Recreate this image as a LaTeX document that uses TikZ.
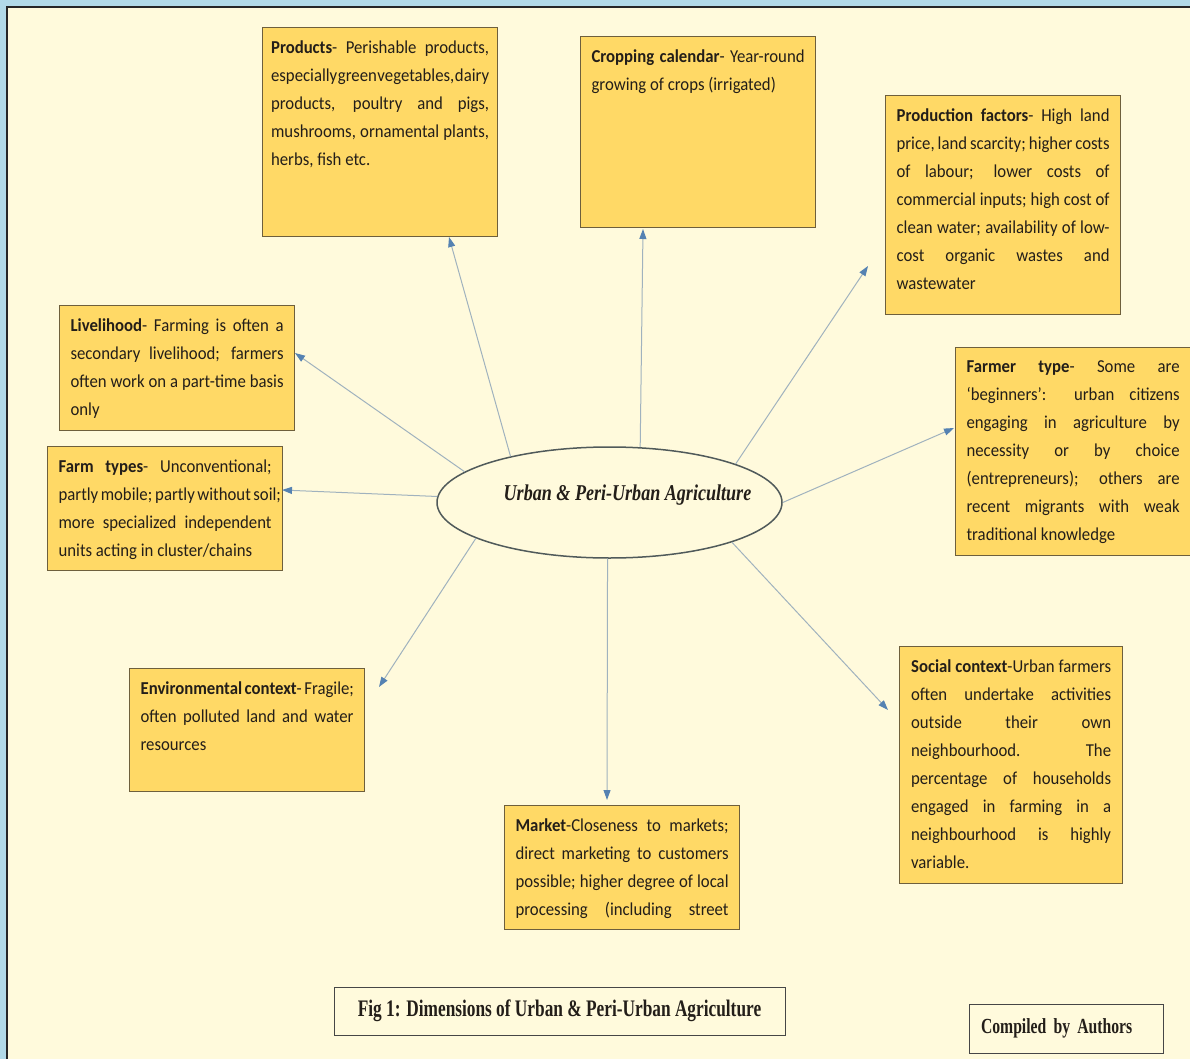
\documentclass[tikz,border=0pt]{standalone}
\usepackage{fontspec}
\setmainfont{Carlito}[FakeStretch=0.92]
\newfontfamily\serifcond{Liberation Serif}[FakeStretch=0.8]
\newfontfamily\serifnarrow{Liberation Serif}[FakeStretch=0.73]
\usetikzlibrary{shapes.geometric,arrows.meta}

\definecolor{framebl}{RGB}{178,218,232}
\definecolor{paper}{RGB}{255,250,220}
\definecolor{cardfill}{RGB}{255,217,102}
\definecolor{cardline}{RGB}{110,95,60}
\definecolor{hubline}{RGB}{80,90,90}
\definecolor{noteline}{RGB}{70,70,70}
\definecolor{inktext}{RGB}{35,30,25}
\definecolor{shaft}{RGB}{160,178,190}
\definecolor{tipblue}{RGB}{85,130,178}

% one justified line of a card
\newcommand\jl[1]{\makebox[\linewidth][s]{#1}\\}
% card body: width, height, text
\newcommand\cardbody[3]{\parbox[c][#2pt][t]{#1pt}{\raggedright #3}}

\begin{document}
\begin{tikzpicture}[x=1pt, y=-1pt,
    card/.style={draw=cardline, line width=1.2pt, fill=cardfill, anchor=north west,
      inner xsep=11pt, inner ysep=13pt, text=inktext,
      font=\fontsize{18.2}{28}\selectfont},
    hub/.style={ellipse, draw=hubline, line width=1.5pt, fill=paper,
      minimum width=345pt, minimum height=111pt, inner sep=0pt,
      text height=15pt, text depth=19pt, text=inktext,
      font=\serifcond\fontsize{22.6}{26}\selectfont\bfseries\itshape},
    note/.style={draw=noteline, line width=1pt, fill=paper, text=inktext,
      font=\serifnarrow\fontsize{23.7}{26}\selectfont\bfseries},
    arr/.style={draw=shaft, line width=1pt,
      -{Triangle[length=10pt, width=7pt, color=tipblue]}}]

  \useasboundingbox (0,0) rectangle (1190,1059);

  % frame
  \fill[framebl] (0,0) rectangle (1190,1059);
  \fill[paper] (7,7) rectangle (1190,1059);
  \draw[line width=2pt, black!85] (7,1059) -- (7,7) -- (1190,7);

  % centre
  \node[hub] (hub) at (609.5,502.5)
    {\makebox[0pt]{\hspace{36pt}Urban \& Peri-Urban Agriculture}};

  % cards
  \node[card, inner xsep=8.5pt] (prod) at (262,27) {\cardbody{218}{183}{%
    \jl{\textbf{Products}- Perishable products,}%
    \makebox[\linewidth][s]{especially\hspace{0.5pt plus 1fil}green\hspace{0.5pt plus 1fil}vegetables,\hspace{0.5pt plus 1fil}dairy}\\
    \jl{products, poultry and pigs,}%
    \jl{mushrooms, ornamental plants,}%
    herbs, fish etc.}};

  \node[card] (crop) at (580,36) {\cardbody{213}{165}{%
    \jl{\textbf{Cropping calendar}- Year-round}%
    growing of crops (irrigated)}};

  \node[card] (pfac) at (885,95) {\cardbody{213}{193}{%
    \jl{\textbf{Production factors}- High land}%
    \jl{price, land scarcity; higher costs}%
    \jl{of labour; lower costs of}%
    \jl{commercial inputs; high cost of}%
    \jl{clean water; availability of low-}%
    \jl{cost organic wastes and}%
    wastewater}};

  \node[card] (live) at (59,305) {\cardbody{213}{99}{%
    \jl{\textbf{Livelihood}- Farming is often a}%
    \jl{secondary livelihood; farmers}%
    \jl{often work on a part-time basis}%
    only}};

  \node[card] (farm) at (47,446) {\cardbody{213}{98}{%
    \jl{\textbf{Farm types}- Unconventional;}%
    \jl{partly mobile; partly without soil;}%
    \jl{more specialized independent}%
    units acting in cluster/chains}};

  \node[card] (farmer) at (955,347) {\cardbody{213}{182}{%
    \jl{\textbf{Farmer type}- Some are}%
    \jl{‘beginners’: urban citizens}%
    \jl{engaging in agriculture by}%
    \jl{necessity or by choice}%
    \jl{(entrepreneurs); others are}%
    \jl{recent migrants with weak}%
    traditional knowledge}};

  \node[card] (env) at (129,668) {\cardbody{213}{97}{%
    \jl{\textbf{Environmental context}- Fragile;}%
    \jl{often polluted land and water}%
    resources}};

  \node[card, inner xsep=11.5pt] (soc) at (899,646) {\cardbody{200}{211}{%
    \jl{\textbf{Social context}-Urban farmers}%
    \jl{often undertake activities}%
    \jl{outside their own}%
    \jl{neighbourhood. The}%
    \jl{percentage of households}%
    \jl{engaged in farming in a}%
    \jl{neighbourhood is highly}%
    variable.}};

  \node[card] (mkt) at (504,805) {\cardbody{213}{98}{%
    \jl{\textbf{Market}-Closeness to markets;}%
    \jl{direct marketing to customers}%
    \jl{possible; higher degree of local}%
    \makebox[\linewidth][s]{processing (including street}}};

  % caption and credit
  \node[note, minimum width=451pt, minimum height=48pt] (caption) at (559.5,1011)
    {Fig 1: Dimensions of Urban \& Peri-Urban Agriculture};
  \node[note, text width=170pt, inner xsep=12pt, minimum height=49pt, align=left,
    font=\serifnarrow\fontsize{21.5}{24}\selectfont\bfseries] (credit) at (1066,1028.5)
    {Compiled by Authors};

  % arrow tips
  \coordinate (tprod) at (449,237);
  \coordinate (tcrop) at (643,229);
  \coordinate (tpfac) at (868,266);
  \coordinate (tlive) at (295,353);
  \coordinate (tfarm) at (282,490);
  \coordinate (tfarmer) at (954,428);
  \coordinate (tenv) at (379,687);
  \coordinate (tmkt) at (607,800);
  \coordinate (tsoc) at (888,710);

  % connectors
  \draw[arr] (hub.155) -- (tprod);
  \draw[arr] (hub.61) -- (tcrop);
  \draw[arr] (hub.17) -- (tpfac);
  \draw[arr] (hub.168) -- (tlive);
  \draw[arr] (hub.178) -- (tfarm);
  \draw[arr] (hub.0) -- (tfarmer);
  \draw[arr] (hub.195) -- (tenv);
  \draw[arr] (hub.268) -- (tmkt);
  \draw[arr] (hub.342) -- (tsoc);
\end{tikzpicture}
\end{document}
